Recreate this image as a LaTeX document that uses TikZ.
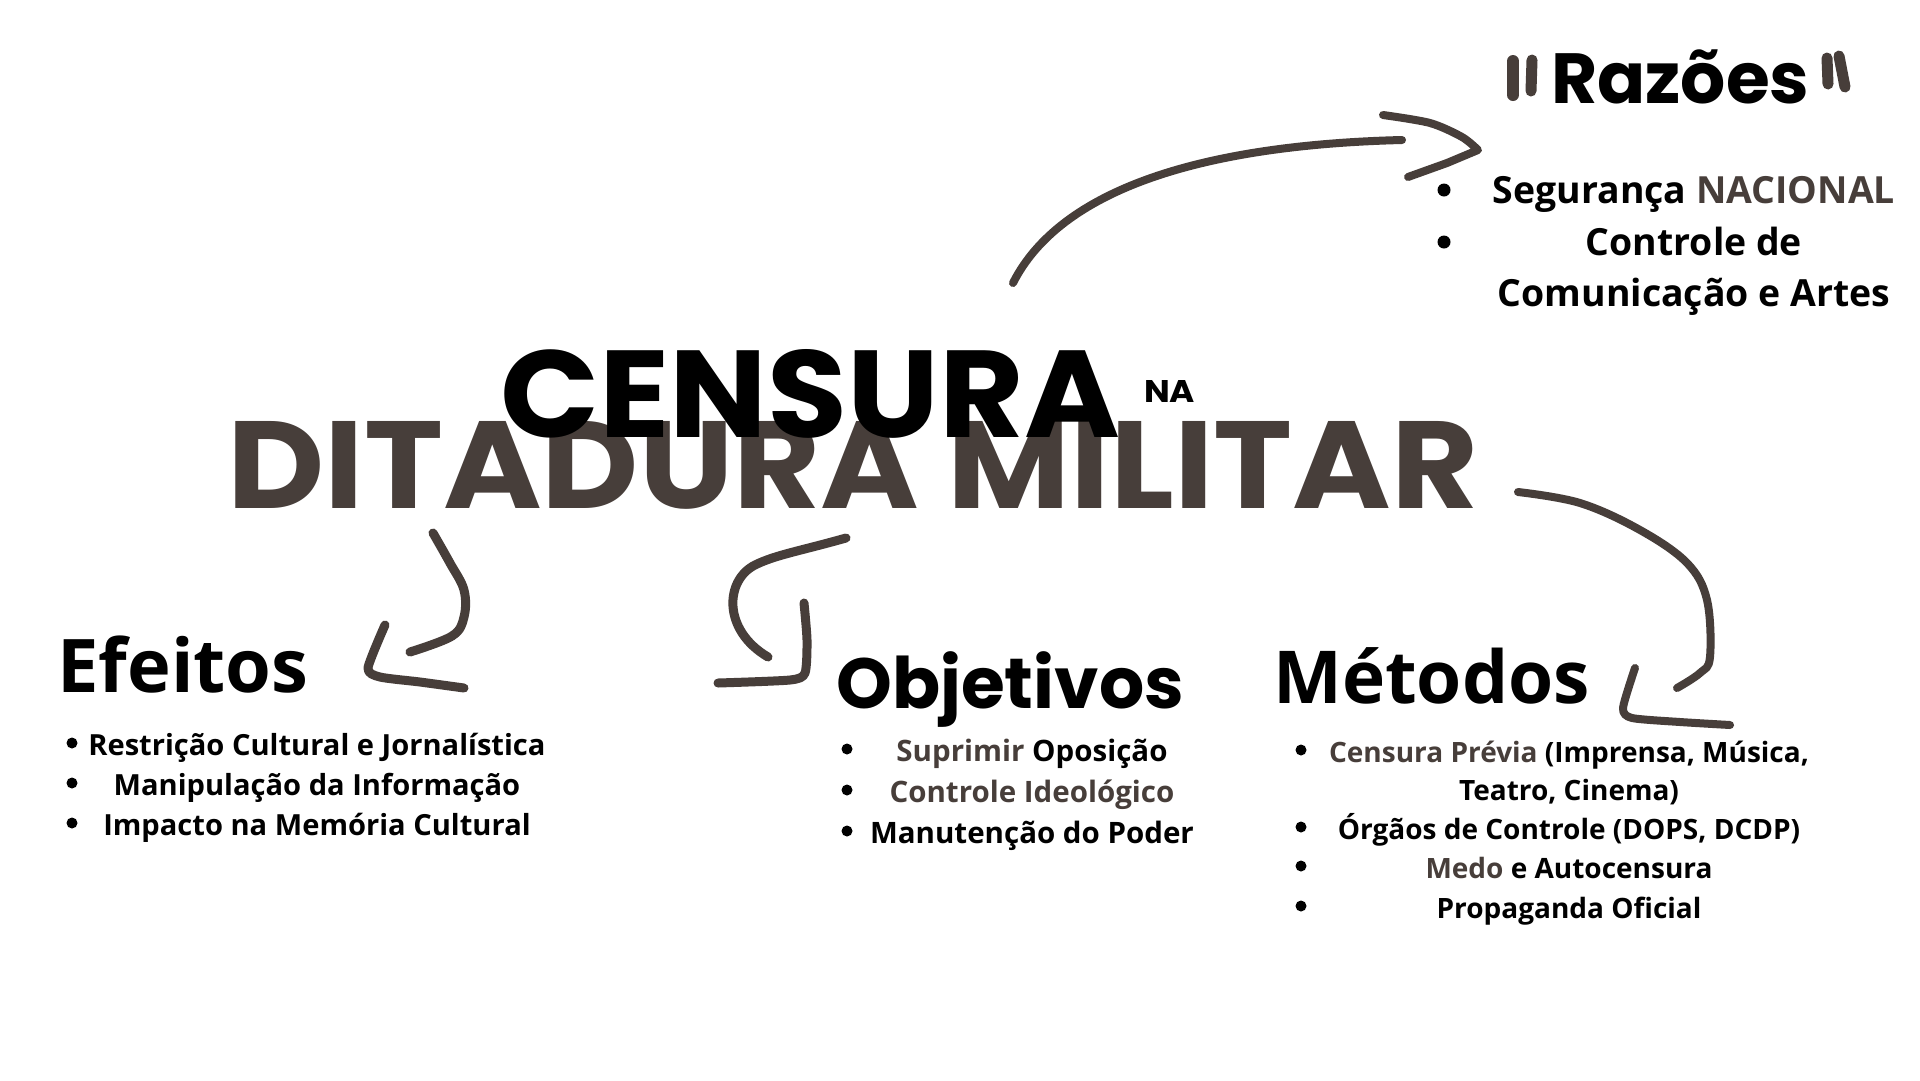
\documentclass[tikz,border=0pt]{standalone}
\usepackage{fontspec}
\usepackage{graphicx}
\setmainfont{Open Sans}
\newfontfamily\popf{Poppins}
\definecolor{brn}{RGB}{71,62,58}
\tikzset{
  stroke/.style={draw=brn, line width=8.5pt, line cap=round, line join=round},
  itemtxt/.style={anchor=base, inner sep=0pt, font=\fontsize{28}{34}\selectfont\bfseries},
  razitem/.style={anchor=base, inner sep=0pt, font=\fontsize{37.4}{44}\selectfont\bfseries},
  headtxt/.style={anchor=base west, inner sep=0pt},
  dotb/.style={circle, fill=black, inner sep=0pt, minimum size=11pt},
  bigdot/.style={circle, fill=black, inner sep=0pt, minimum size=13pt},
}
\begin{document}
\begin{tikzpicture}[x=1pt,y=-1pt]
\useasboundingbox (0,0) rectangle (1920,1080);
\fill[white] (0,0) rectangle (1920,1080);

% Title
\node[headtxt, text=brn] (ditadura) at (227,508) {\resizebox{1250pt}{87pt}{\popf\bfseries DITADURA MILITAR}};
\node[headtxt] (censura) at (500,437) {\resizebox{620pt}{88pt}{\popf\bfseries CENSURA}};
\node[headtxt] (na) at (1144,402) {\resizebox{51pt}{22pt}{\popf\bfseries NA}};

% Headings
\node[headtxt, font=\fontsize{74}{80}\selectfont\bfseries] (efeitos) at (57,692) {Efeitos};
\node[headtxt, font=\fontsize{71}{80}\popf\selectfont\bfseries] (objetivos) at (836,708) {Objetivos};
\node[headtxt, font=\fontsize{73}{80}\selectfont\bfseries] (metodos) at (1273,703) {Métodos};
\node[headtxt, font=\fontsize{71}{80}\popf\selectfont\bfseries] (razoes) at (1551,103) {Razões};

% Razões quote marks
\draw[stroke, line width=12pt] (1513,61) coordinate (qa1) -- (1513,95) coordinate (qa2);
\draw[stroke, line width=11pt] (1532,60) coordinate (qb1) -- (1531,91) coordinate (qb2);
\draw[stroke, line width=11pt] (1827,58) coordinate (qc1) -- (1828,84) coordinate (qc2);
\draw[stroke, line width=11pt] (1839,56) coordinate (qd1) -- (1845,87) coordinate (qd2);

% Razões items
\node[bigdot] (r1b) at (1444,190) {};
\node[razitem] (r1) at (1694,203) {Segurança {\color{brn}NACIONAL}};
\node[bigdot] (r2b) at (1444,242) {};
\node[razitem] (r2) at (1694,255) {Controle de};
\node[razitem] (r3) at (1694,306) {Comunicação e Artes};

% Efeitos items
\node[dotb] (e1b) at (72,743) {};
\node[itemtxt, font=\fontsize{29.1}{34}\selectfont\bfseries] (e1) at (317,755) {Restrição Cultural e Jornalística};
\node[dotb] (e2b) at (72,783) {};
\node[itemtxt, font=\fontsize{29.1}{34}\selectfont\bfseries] (e2) at (317,795) {Manipulação da Informação};
\node[dotb] (e3b) at (72,823) {};
\node[itemtxt, font=\fontsize{29.1}{34}\selectfont\bfseries] (e3) at (317,835) {Impacto na Memória Cultural};

% Objetivos items
\node[dotb] (o1b) at (847,749) {};
\node[itemtxt, font=\fontsize{29.5}{34}\selectfont\bfseries] (o1) at (1032,761) {{\color{brn}Suprimir} Oposição};
\node[dotb] (o2b) at (847,790) {};
\node[itemtxt, font=\fontsize{29.5}{34}\selectfont\bfseries, text=brn] (o2) at (1032,802) {Controle Ideológico};
\node[dotb] (o3b) at (847,831) {};
\node[itemtxt, font=\fontsize{29.5}{34}\selectfont\bfseries] (o3) at (1032,843) {Manutenção do Poder};

% Métodos items
\node[dotb] (m1b) at (1301,750) {};
\node[itemtxt] (m1) at (1569,762) {{\color{brn}Censura Prévia} (Imprensa, Música,};
\node[itemtxt] (m2) at (1569,800) {Teatro, Cinema)};
\node[dotb] (m3b) at (1301,827) {};
\node[itemtxt] (m3) at (1569,839) {Órgãos de Controle (DOPS, DCDP)};
\node[dotb] (m4b) at (1301,866) {};
\node[itemtxt] (m4) at (1569,878) {{\color{brn}Medo} e Autocensura};
\node[dotb] (m5b) at (1301,906) {};
\node[itemtxt] (m5) at (1569,918) {Propaganda Oficial};

% Arrow to Razões
\coordinate (a1s) at (1013,283);
\coordinate (a1e) at (1402,140);
\draw[stroke, line width=8pt] (a1s) .. controls (1060,190) and (1200,145) .. (a1e);
\draw[stroke, line width=8pt] plot[smooth, tension=0.5] coordinates {(1383,115) (1430,123) (1462,137) (1478,150)} -- (1447,163) -- (1408,177);

% Arrow to Métodos
\coordinate (a2s) at (1518,492);
\draw[stroke, line width=8pt] plot[smooth, tension=0.6] coordinates {(a2s) (1580,503) (1640,530) (1687,563) (1707,600) (1710,657) (1700,673) (1677,688)};
\draw[stroke, line width=8pt] plot[smooth, tension=0.4] coordinates {(1635,668) (1623,708) (1632,718) (1680,722) (1730,725)};

% Arrow to Efeitos
\coordinate (a3s) at (433,533);
\draw[stroke, line width=9pt] plot[smooth, tension=0.6] coordinates {(a3s) (450,563) (464,590) (464,617) (452,636) (410,652)};
\draw[stroke, line width=9pt] plot[smooth, tension=0.4] coordinates {(385,625) (368,668) (380,677) (420,682) (464,688)};

% Arrow to Objetivos
\coordinate (a4s) at (846,538);
\draw[stroke, line width=9pt] (a4s) .. controls (800,551) and (775,555) .. (755,565) .. controls (725,580) and (722,630) .. (768,657);
\draw[stroke, line width=9pt] plot[smooth, tension=0.4] coordinates {(804,603) (807,640) (805,673) (790,680) (718,683)};
\end{tikzpicture}
\end{document}
